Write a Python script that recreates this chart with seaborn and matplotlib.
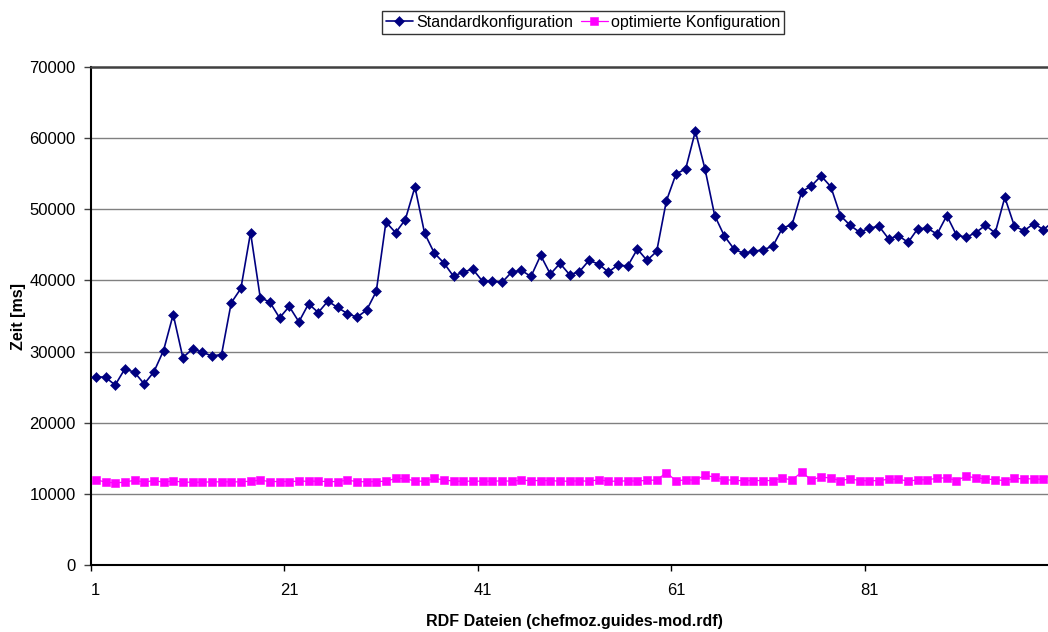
import numpy as np
import pandas as pd
import matplotlib
matplotlib.use("Agg")
import matplotlib.pyplot as plt
import seaborn as sns

# Laufzeiten je RDF-Datei (ms)
dateien = list(range(1, 101))
standard = [26480, 26380, 25300, 27560, 27090, 25450, 27140, 30140, 35210, 29150,
            30380, 29910, 29390, 29580, 36850, 38870, 46720, 37600, 36940, 34740,
            36340, 34180, 36710, 35490, 37090, 36200, 35350, 34830, 35820, 38450,
            48210, 46710, 48540, 53140, 46620, 43850, 42440, 40560, 41220, 41550,
            39860, 39950, 39720, 41170, 41410, 40560, 43520, 40890, 42390, 40800,
            41220, 42810, 42300, 41170, 42160, 42020, 44410, 42810, 44080, 51170,
            54970, 55680, 60990, 55630, 49110, 46240, 44410, 43800, 44080, 44320,
            44790, 47370, 47840, 52490, 53290, 54690, 53190, 49110, 47750, 46760,
            47370, 47600, 45820, 46290, 45350, 47280, 47320, 46520, 49110, 46380,
            46060, 46720, 47750, 46660, 51680, 47600, 47000, 47990, 47140, 48260]
optimiert = [12010, 11640, 11550, 11640, 11920, 11640, 11870, 11640, 11830, 11640,
             11640, 11640, 11690, 11690, 11690, 11690, 11780, 11920, 11730, 11730,
             11730, 11780, 11780, 11780, 11730, 11730, 11920, 11730, 11690, 11730,
             11780, 12160, 12160, 11780, 11780, 12160, 11970, 11780, 11780, 11780,
             11780, 11780, 11830, 11780, 11920, 11870, 11870, 11870, 11780, 11780,
             11830, 11780, 11970, 11780, 11780, 11830, 11780, 11920, 11920, 13000,
             11830, 11970, 11920, 12620, 12340, 11970, 11920, 11830, 11870, 11870,
             11870, 12200, 11970, 13050, 11970, 12390, 12200, 11870, 12110, 11870,
             11830, 11870, 12060, 12060, 11780, 11970, 11970, 12200, 12250, 11870,
             12480, 12250, 12110, 11970, 11870, 12160, 12110, 12110, 12020, 12900]
serien = ["Standardkonfiguration", "optimierte Konfiguration"]
y_ticks = [0, 10000, 20000, 30000, 40000, 50000, 60000, 70000]
x_ticks = [1, 21, 41, 61, 81]

df = pd.DataFrame({"Datei": dateien * 2,
                   "Zeit": standard + optimiert,
                   "Konfiguration": [serien[0]] * len(dateien) + [serien[1]] * len(dateien)})

sns.set_style("white")
plt.rcParams["font.family"] = ["Liberation Sans", "DejaVu Sans"]
plt.rcParams.update({"text.color": "#000000", "axes.labelcolor": "#000000",
                     "xtick.color": "#000000", "ytick.color": "#000000"})

W, H = 1048, 632
fig = plt.figure(figsize=(W / 100, H / 100), dpi=100)
# plot area: left 91px, top 67px, bottom 565px; right side runs past the canvas
ax = fig.add_axes([91 / W, 1 - 565 / H, (1058 - 91) / W, (565 - 67) / H])

styles = {
    serien[0]: dict(color="#000080", marker="D", markersize=4.6, linewidth=1.2),
    serien[1]: dict(color="#FF00FF", marker="s", markersize=5.4, linewidth=0.9),
}
for name in serien:
    st = styles[name]
    sns.lineplot(data=df[df["Konfiguration"] == name], x="Datei", y="Zeit", ax=ax,
                 color=st["color"], marker=st["marker"], markersize=st["markersize"],
                 markeredgecolor=st["color"], markeredgewidth=0.4,
                 linewidth=st["linewidth"], label=name, legend=False, zorder=3)

ax.set_xlim(0.5, 100.5)
ax.set_ylim(0, 70000)
ax.set_yticks(y_ticks)
ax.set_yticklabels([str(v) for v in y_ticks])
# category ticks sit between files, labels on the files
ax.set_xticks([t - 0.5 for t in x_ticks])
ax.set_xticklabels([])
ax.set_xticks(x_ticks, minor=True)
ax.set_xticklabels([str(t) for t in x_ticks], minor=True)
ax.tick_params(axis="x", which="minor", length=0, pad=13, labelsize=12)
ax.tick_params(axis="x", which="major", direction="out", length=4, width=1, color="#000000", bottom=True)
ax.tick_params(axis="y", direction="out", length=5, width=1, color="#404040", left=True,
               pad=6, labelsize=12)

for v in y_ticks[1:-1]:
    ax.axhline(v, color="#808080", linewidth=1.0, zorder=1)

for side in ["left", "bottom"]:
    ax.spines[side].set_color("#000000")
    ax.spines[side].set_linewidth(1.5)
ax.spines["top"].set_color("#404040")
ax.spines["top"].set_linewidth(1.8)
ax.spines["right"].set_visible(False)

for ln in ax.lines:
    ln.set_clip_on(False)

ax.set_xlabel("RDF Dateien (chefmoz.guides-mod.rdf)", fontsize=11.5, fontweight="bold")
ax.set_ylabel("Zeit [ms]", fontsize=11.5, fontweight="bold")
ax.xaxis.set_label_coords(0.5, -(614 - 565) / (565 - 67))
ax.yaxis.set_label_coords((26 - 91) / (1058 - 91), 0.5)

handles, labels = ax.get_legend_handles_labels()
leg = fig.legend(handles, labels, loc="center", bbox_to_anchor=(583 / W, 1 - 22.5 / H),
                 ncol=2, frameon=True, fancybox=False, shadow=False, fontsize=11.5,
                 handlelength=1.7, handletextpad=0.2, columnspacing=0.5,
                 borderpad=0.25, borderaxespad=0)
leg.get_frame().set_edgecolor("#000000")
leg.get_frame().set_linewidth(1.0)

fig.savefig("out.png", dpi=100)
